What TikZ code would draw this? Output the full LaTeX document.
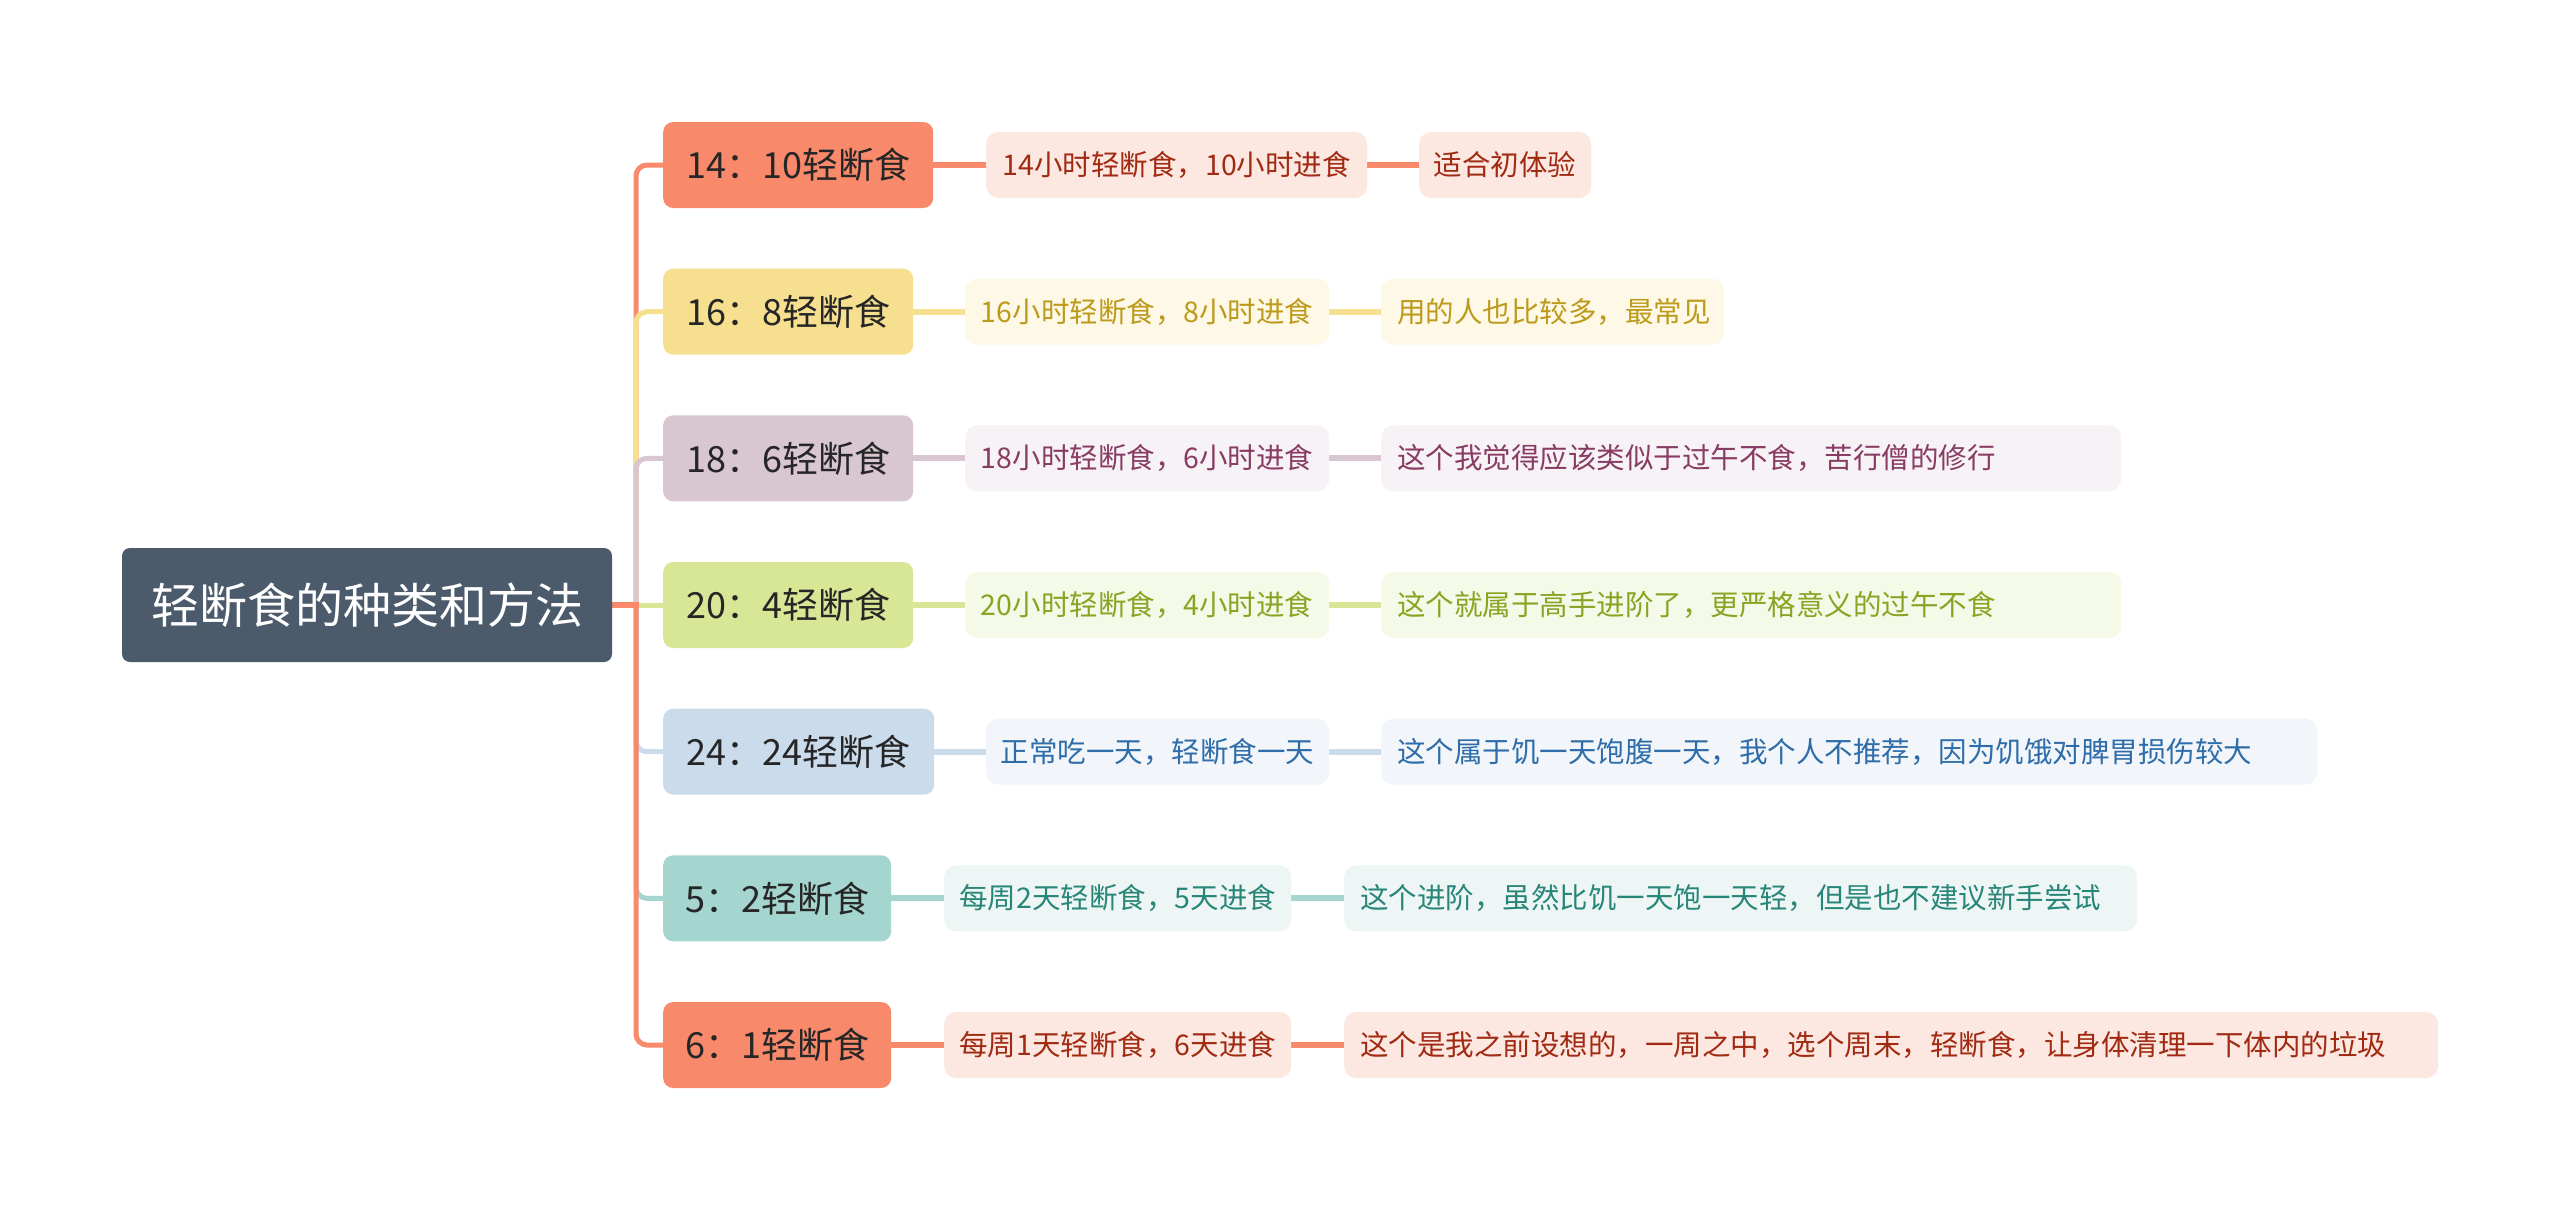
\documentclass[tikz,border=0pt]{standalone}
\usepackage{fontspec}
\setmainfont{Noto Sans CJK SC}
\usetikzlibrary{positioning,backgrounds}
\definecolor{rootc}{HTML}{4B5B6B}
\definecolor{lonetext}{HTML}{262626}
\definecolor{corA}{HTML}{F88A6B}\definecolor{corB}{HTML}{FDE7E1}\definecolor{corT}{HTML}{A02A12}
\definecolor{yelA}{HTML}{F7DF90}\definecolor{yelB}{HTML}{FEF8E6}\definecolor{yelT}{HTML}{BD9A1C}
\definecolor{mauA}{HTML}{D8C6D0}\definecolor{mauB}{HTML}{F7F2F5}\definecolor{mauT}{HTML}{883B63}
\definecolor{grnA}{HTML}{D8E796}\definecolor{grnB}{HTML}{F5F9E7}\definecolor{grnT}{HTML}{8BA323}
\definecolor{bluA}{HTML}{CADCEC}\definecolor{bluB}{HTML}{F2F6FA}\definecolor{bluT}{HTML}{2E6DA9}
\definecolor{tea A}{HTML}{A5D5CF}\definecolor{teaB}{HTML}{EEF6F5}\definecolor{teaT}{HTML}{288679}
\tikzset{
  rootbox/.style={fill=rootc, rounded corners=8pt, text=white, font=\fontsize{48}{56}\selectfont,
    minimum width=490pt, minimum height=114pt, inner sep=0pt},
  lone/.style={rounded corners=10pt, text=lonetext, font=\fontsize{36}{42}\selectfont,
    minimum height=86pt, inner sep=0pt, anchor=west},
  ltwo/.style={rounded corners=12pt, font=\fontsize{28.5}{34}\selectfont,
    minimum height=66pt, inner sep=0pt, anchor=west},
  lthree/.style={ltwo, inner xsep=16pt, text width=#1, align=left},
  spine/.style={line width=5pt, rounded corners=11pt},
  link/.style={line width=6pt},
}
\begin{document}
\begin{tikzpicture}[x=1pt,y=-1pt]
\useasboundingbox (0,0) rectangle (2560,1210);
% root
\node[rootbox] (root) at (367,605) {轻断食的种类和方法};
\coordinate (hub) at (636,605);
% level 1
\node[lone, fill=corA, minimum width=270pt] (a1) at (663,165) {14：10轻断食};
\node[lone, fill=yelA, minimum width=250pt] (a2) at (663,311.7) {16：8轻断食};
\node[lone, fill=mauA, minimum width=250pt] (a3) at (663,458.3) {18：6轻断食};
\node[lone, fill=grnA, minimum width=250pt] (a4) at (663,605) {20：4轻断食};
\node[lone, fill=bluA, minimum width=271pt] (a5) at (663,751.7) {24：24轻断食};
\node[lone, fill=tea A, minimum width=228pt] (a6) at (663,898.3) {5：2轻断食};
\node[lone, fill=corA, minimum width=228pt] (a7) at (663,1045) {6：1轻断食};
% level 2
\node[ltwo, fill=corB, text=corT, minimum width=381pt] (b1) at (986,165) {14小时轻断食，10小时进食};
\node[ltwo, fill=yelB, text=yelT, minimum width=364pt] (b2) at (965,311.7) {16小时轻断食，8小时进食};
\node[ltwo, fill=mauB, text=mauT, minimum width=364pt] (b3) at (965,458.3) {18小时轻断食，6小时进食};
\node[ltwo, fill=grnB, text=grnT, minimum width=364pt] (b4) at (965,605) {20小时轻断食，4小时进食};
\node[ltwo, fill=bluB, text=bluT, minimum width=343pt] (b5) at (986,751.7) {正常吃一天，轻断食一天};
\node[ltwo, fill=teaB, text=teaT, minimum width=347pt] (b6) at (944,898.3) {每周2天轻断食，5天进食};
\node[ltwo, fill=corB, text=corT, minimum width=347pt] (b7) at (944,1045) {每周1天轻断食，6天进食};
% level 3
\node[ltwo, fill=corB, text=corT, minimum width=172pt] (c1) at (1419,165) {适合初体验};
\node[lthree=311pt, fill=yelB, text=yelT] (c2) at (1381,311.7) {用的人也比较多，最常见};
\node[lthree=708pt, fill=mauB, text=mauT] (c3) at (1381,458.3) {这个我觉得应该类似于过午不食，苦行僧的修行};
\node[lthree=708pt, fill=grnB, text=grnT] (c4) at (1381,605) {这个就属于高手进阶了，更严格意义的过午不食};
\node[lthree=904pt, fill=bluB, text=bluT] (c5) at (1381,751.7) {这个属于饥一天饱腹一天，我个人不推荐，因为饥饿对脾胃损伤较大};
\node[lthree=761pt, fill=teaB, text=teaT] (c6) at (1344,898.3) {这个进阶，虽然比饥一天饱一天轻，但是也不建议新手尝试};
\node[lthree=1062pt, fill=corB, text=corT] (c7) at (1344,1045) {这个是我之前设想的，一周之中，选个周末，轻断食，让身体清理一下体内的垃圾};
\begin{scope}[on background layer]
\fill[white] (0,0) rectangle (2560,1210);
\draw[spine, corA] (hub) |- (a1.west);
\draw[spine, yelA] (hub) |- (a2.west);
\draw[spine, mauA] (hub) |- (a3.west);
\draw[spine, grnA] (hub) -- (a4.west);
\draw[spine, bluA] (hub) |- (a5.west);
\draw[spine, tea A] (hub) |- (a6.west);
\draw[spine, corA] (hub) |- (a7.west);
\draw[line width=6pt, corA] (root.east) -- ([xshift=2.5pt]hub);
\draw[link, corA] (a1.east) -- (b1.west);
\draw[link, yelA] (a2.east) -- (b2.west);
\draw[link, mauA] (a3.east) -- (b3.west);
\draw[link, grnA] (a4.east) -- (b4.west);
\draw[link, bluA] (a5.east) -- (b5.west);
\draw[link, tea A] (a6.east) -- (b6.west);
\draw[link, corA] (a7.east) -- (b7.west);
\draw[link, corA] (b1.east) -- (c1.west);
\draw[link, yelA] (b2.east) -- (c2.west);
\draw[link, mauA] (b3.east) -- (c3.west);
\draw[link, grnA] (b4.east) -- (c4.west);
\draw[link, bluA] (b5.east) -- (c5.west);
\draw[link, tea A] (b6.east) -- (c6.west);
\draw[link, corA] (b7.east) -- (c7.west);
\end{scope}
\end{tikzpicture}
\end{document}
